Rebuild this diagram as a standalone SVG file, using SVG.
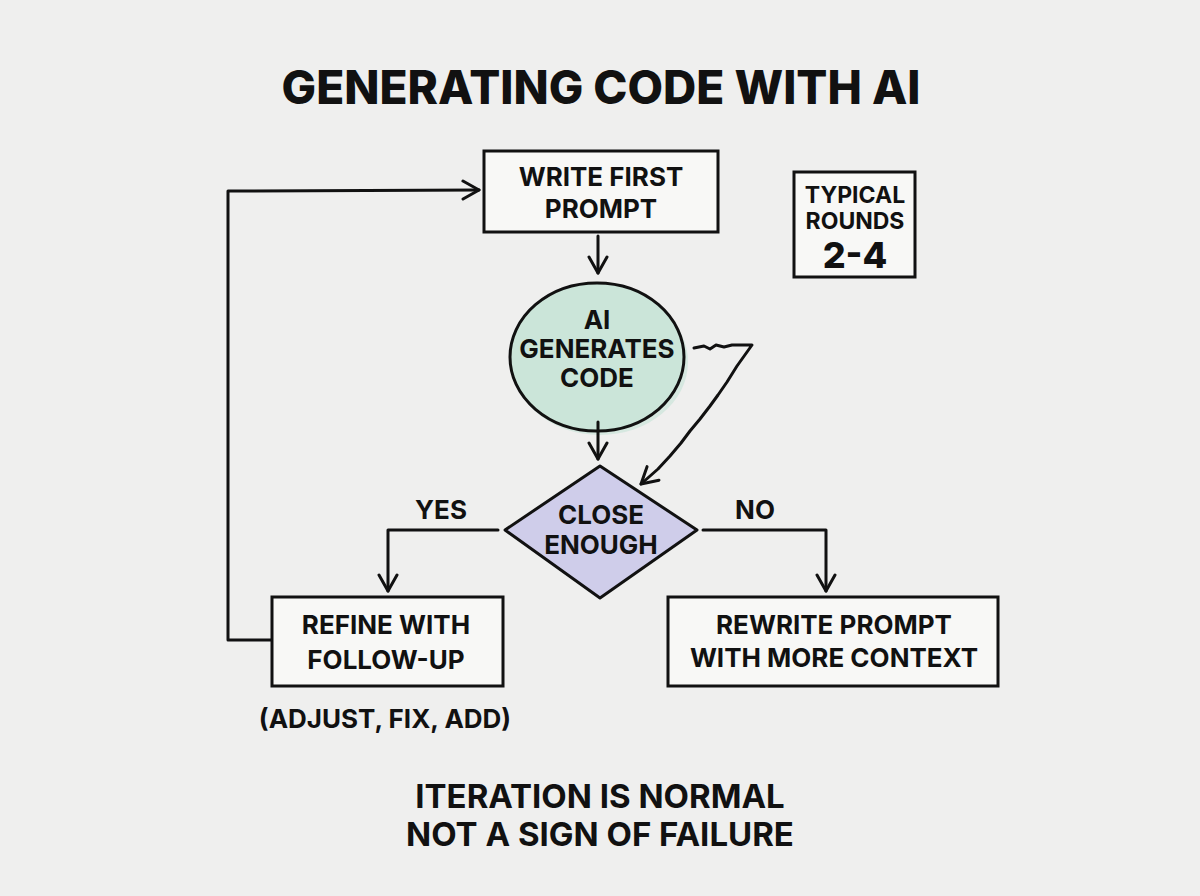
<svg xmlns="http://www.w3.org/2000/svg" width="1200" height="896" viewBox="0 0 1200 896">
<defs>
<style>
text{font-family:Inter,"Open Sans","Liberation Sans",sans-serif;font-weight:700;fill:#111;text-anchor:middle}
.t{font-size:26px}
.ln{fill:none;stroke:#111;stroke-width:3;stroke-linecap:round;stroke-linejoin:round}
.bx{fill:#f8f8f6;stroke:#111;stroke-width:3}
</style>
<marker id="ah" viewBox="0 0 22 22" refX="19" refY="11" markerWidth="22" markerHeight="22" markerUnits="userSpaceOnUse" orient="auto">
<path d="M3 2 L19 11 L3 20" fill="none" stroke="#111" stroke-width="3" stroke-linecap="round" stroke-linejoin="round"/>
</marker>
</defs>
<rect width="1200" height="896" fill="#efefee"/>
<text x="601" y="104" style="font-size:46px;font-weight:800">GENERATING CODE WITH AI</text>

<g id="write-first-prompt">
<rect class="bx" x="484" y="151" width="234" height="81"/>
<text class="t" x="601" y="186">WRITE FIRST</text>
<text class="t" x="601" y="218">PROMPT</text>
</g>

<g id="ai-generates-code">
<ellipse cx="600" cy="362" rx="88" ry="73" fill="#cfe6dc" opacity="0.8"/>
<ellipse cx="597" cy="357" rx="87" ry="74" fill="#cbe5d9" stroke="#111" stroke-width="3"/>
<text class="t" x="597" y="329">AI</text>
<text class="t" x="597" y="358">GENERATES</text>
<text class="t" x="597" y="387">CODE</text>
</g>

<g id="close-enough">
<path d="M600 466 L697 530 L600 598 L505 530 Z" fill="#cfcdea" stroke="#111" stroke-width="3" stroke-linejoin="round"/>
<text class="t" x="601" y="524">CLOSE</text>
<text class="t" x="601" y="554">ENOUGH</text>
</g>

<g id="refine">
<rect class="bx" x="272" y="597" width="231" height="89"/>
<text class="t" x="386" y="634">REFINE WITH</text>
<text class="t" x="386" y="669">FOLLOW-UP</text>
</g>

<g id="rewrite">
<rect class="bx" x="668" y="597" width="330" height="89"/>
<text class="t" x="834" y="634">REWRITE PROMPT</text>
<text class="t" x="834" y="667">WITH MORE CONTEXT</text>
</g>

<g id="typical-rounds">
<rect class="bx" x="794" y="172" width="121" height="105"/>
<text x="855" y="203" style="font-size:23px">TYPICAL</text>
<text x="855" y="229" style="font-size:23px">ROUNDS</text>
<text x="855" y="268" style="font-size:36px;font-weight:800">2-4</text>
</g>

<g id="connectors">
<path class="ln" d="M598 236 L598 273" marker-end="url(#ah)"/>
<path class="ln" d="M598 422 L598 459" marker-end="url(#ah)"/>
<path class="ln" d="M694 348 L704 346 L710 349 L716 345 L724 347 L732 345 L752 345 L737 366 L727 382 L718 395 L710 406 L700 419 L690 431 L681 443 L670 456 L658 469 L641 484" marker-end="url(#ah)"/>
<path class="ln" d="M498 530 L388 530 L388 591" marker-end="url(#ah)"/>
<path class="ln" d="M703 530 L826 530 L826 591" marker-end="url(#ah)"/>
<path class="ln" d="M271 640 L228 640 L228 191 L479 190" marker-end="url(#ah)"/>
</g>

<text class="t" x="441" y="519">YES</text>
<text class="t" x="755" y="519">NO</text>
<text class="t" x="385" y="728">(ADJUST, FIX, ADD)</text>
<text x="600" y="808" style="font-size:33px">ITERATION IS NORMAL</text>
<text x="600" y="846" style="font-size:33px">NOT A SIGN OF FAILURE</text>
</svg>
